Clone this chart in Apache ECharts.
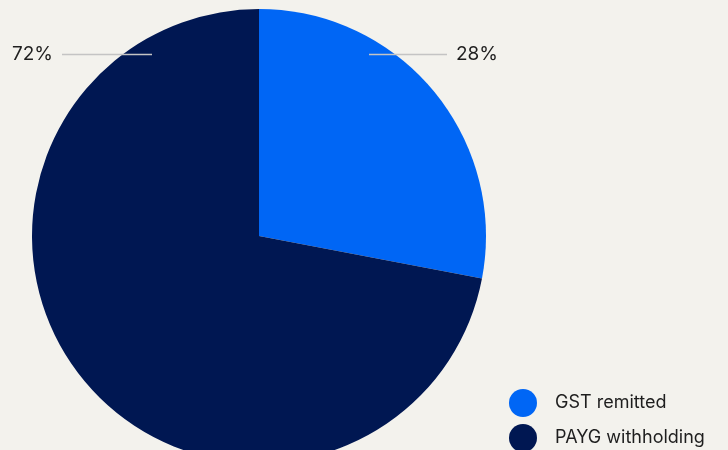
<!DOCTYPE html>
<html><head><meta charset="utf-8">
<script src="https://cdn.jsdelivr.net/npm/echarts@6/dist/echarts.min.js"></script>
<style>html,body{margin:0;padding:0;background:#f3f2ed;}#c{width:728px;height:450px;}</style>
</head><body><div id="c"></div>
<script>
var categories = ["GST remitted", "PAYG withholding"];
var values = [28, 72];
var colors = ["#0066f5", "#001752"];

var chart = echarts.init(document.getElementById('c'));
var cx = 259, cy = 236, R = 227;
function layout(p) {
  var y = cy - R * 0.8;
  if (p.dataIndex === 0) {
    return { x: cx + 197, y: y, align: 'left', verticalAlign: 'middle',
      labelLinePoints: [[cx + 110, y], [cx + 149, y], [cx + 188, y]] };
  } else {
    return { x: cx - 206, y: y, align: 'right', verticalAlign: 'middle',
      labelLinePoints: [[cx - 107, y], [cx - 152, y], [cx - 197, y]] };
  }
}
var pieData = categories.map(function (c, i) { return { name: c, value: values[i], itemStyle: { color: colors[i] } }; });
chart.setOption({
  backgroundColor: '#f3f2ed',
  animation: false,
  legend: {
    orient: 'vertical', left: 509, top: 389, height: 120, padding: 0,
    itemWidth: 28, itemHeight: 28, itemGap: 7,
    icon: 'circle',
    textStyle: { fontFamily: 'Inter', fontSize: 18, color: '#1e1e1e', padding: [0, 0, 0, 13] },
    data: categories
  },
  series: [{
    type: 'pie', z: 2,
    center: [cx, cy], radius: R,
    startAngle: 90, clockwise: true,
    data: pieData,
    label: { show: false },
    labelLine: { show: false }
  }, {
    type: 'pie', z: 5, silent: true,
    center: [cx, cy], radius: R,
    startAngle: 90, clockwise: true,
    data: categories.map(function (c, i) { return { name: c, value: values[i], itemStyle: { color: 'rgba(0,0,0,0)' } }; }),
    label: {
      show: true, formatter: '{d}%', fontFamily: 'Inter', fontSize: 19, color: '#1e1e1e', overflow: 'none'
    },
    labelLine: { show: true, lineStyle: { color: '#c4c4c4', width: 1.5 } },
    labelLayout: layout
  }]
});
</script></body></html>
